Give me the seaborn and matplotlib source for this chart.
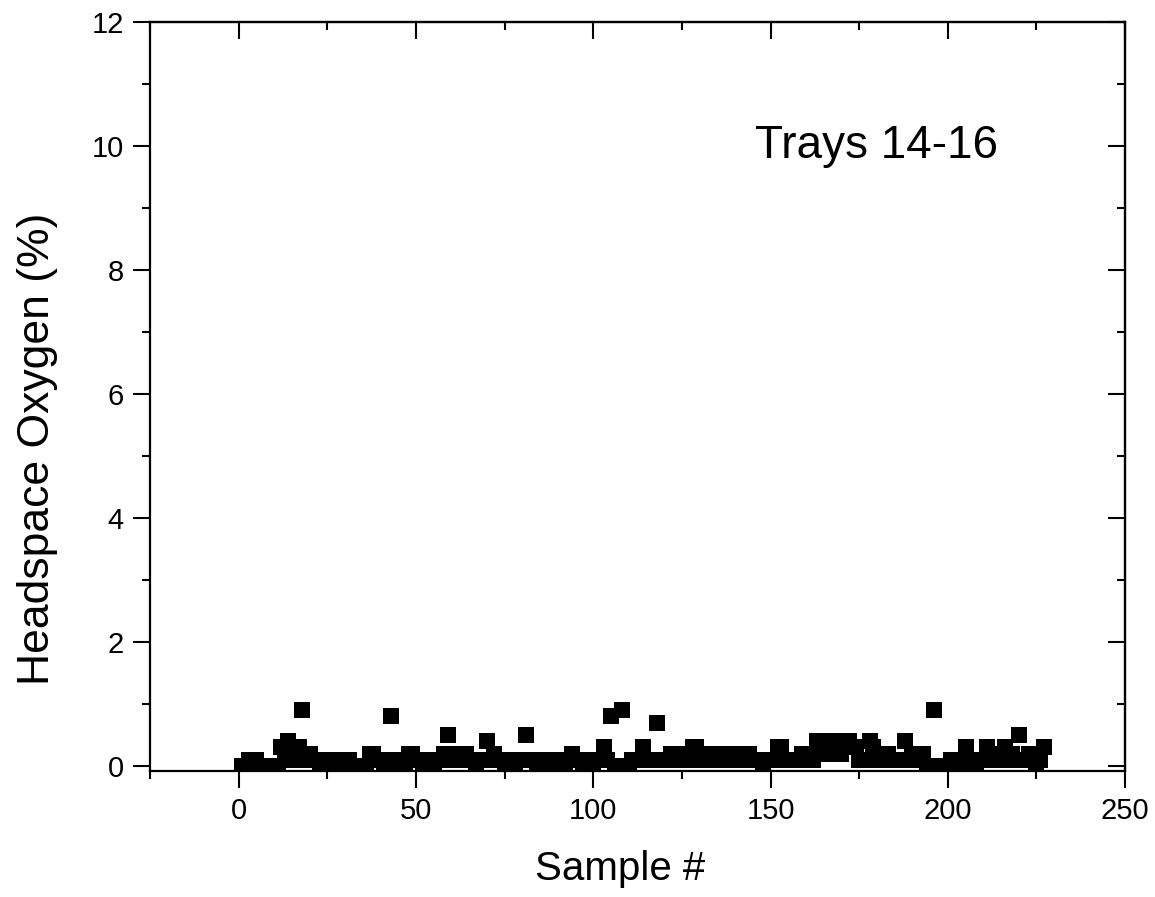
import numpy as np
import pandas as pd
import matplotlib
matplotlib.use("Agg")
import matplotlib.pyplot as plt
from matplotlib.ticker import MultipleLocator
import seaborn as sns

# -------------------------------------------------------
# Dane (Trays 14-16)
# -------------------------------------------------------
sample_no = list(range(1, 228))
oxygen_pct = [
    0.0, 0.0, 0.1, 0.1, 0.1, 0.0, 0.0, 0.0, 0.0, 0.0,   # 1-10
    0.0, 0.3, 0.2, 0.4, 0.1, 0.2, 0.3, 0.9, 0.1, 0.2,   # 11-20
    0.1, 0.1, 0.0, 0.1, 0.1, 0.0, 0.1, 0.1, 0.0, 0.1,   # 21-30
    0.1, 0.0, 0.0, 0.0, 0.0, 0.0, 0.2, 0.2, 0.1, 0.1,   # 31-40
    0.0, 0.1, 0.8, 0.1, 0.0, 0.0, 0.0, 0.2, 0.2, 0.1,   # 41-50
    0.1, 0.0, 0.1, 0.1, 0.0, 0.1, 0.1, 0.2, 0.5, 0.1,   # 51-60
    0.2, 0.1, 0.1, 0.2, 0.1, 0.1, 0.0, 0.1, 0.1, 0.4,   # 61-70
    0.1, 0.2, 0.1, 0.1, 0.0, 0.1, 0.1, 0.0, 0.1, 0.1,   # 71-80
    0.5, 0.1, 0.1, 0.0, 0.1, 0.1, 0.1, 0.0, 0.1, 0.1,   # 81-90
    0.1, 0.0, 0.1, 0.2, 0.1, 0.1, 0.0, 0.1, 0.1, 0.0,   # 91-100
    0.1, 0.1, 0.3, 0.1, 0.8, 0.0, 0.0, 0.9, 0.0, 0.0,   # 101-110
    0.1, 0.1, 0.1, 0.3, 0.1, 0.1, 0.1, 0.7, 0.1, 0.1,   # 111-120
    0.1, 0.2, 0.2, 0.2, 0.1, 0.2, 0.1, 0.3, 0.3, 0.1,   # 121-130
    0.2, 0.1, 0.2, 0.1, 0.2, 0.1, 0.2, 0.1, 0.2, 0.1,   # 131-140
    0.2, 0.1, 0.2, 0.2, 0.1, 0.1, 0.1, 0.0, 0.1, 0.1,   # 141-150
    0.1, 0.3, 0.3, 0.1, 0.1, 0.1, 0.1, 0.1, 0.2, 0.1,   # 151-160
    0.2, 0.1, 0.4, 0.3, 0.4, 0.2, 0.4, 0.3, 0.4, 0.2,   # 161-170
    0.3, 0.4, 0.3, 0.3, 0.1, 0.1, 0.1, 0.4, 0.3, 0.1,   # 171-180
    0.2, 0.1, 0.2, 0.1, 0.1, 0.1, 0.1, 0.4, 0.1, 0.2,   # 181-190
    0.1, 0.2, 0.2, 0.0, 0.0, 0.9, 0.0, 0.0, 0.0, 0.0,   # 191-200
    0.1, 0.1, 0.1, 0.0, 0.3, 0.1, 0.1, 0.0, 0.1, 0.1,   # 201-210
    0.3, 0.1, 0.2, 0.1, 0.1, 0.3, 0.1, 0.2, 0.1, 0.5,   # 211-220
    0.1, 0.1, 0.2, 0.1, 0.0, 0.1, 0.3,                  # 221-227
]
tray_label = "Trays 14-16"

df = pd.DataFrame({"Sample #": sample_no, "Headspace Oxygen (%)": oxygen_pct})

# -------------------------------------------------------
# Wykres
# -------------------------------------------------------
sns.set_style("white")
plt.rcParams["font.family"] = ["Liberation Sans", "DejaVu Sans"]
plt.rcParams["text.color"] = "black"
plt.rcParams["axes.labelcolor"] = "black"

fig = plt.figure(figsize=(11.55, 8.97), dpi=100)
ax = fig.add_axes([0.1299, 0.1405, 0.8442, 0.8350])

sns.scatterplot(data=df, x="Sample #", y="Headspace Oxygen (%)", ax=ax,
                marker="s", color="black", s=145, linewidth=0)

ax.set_xlim(-25, 250)
ax.set_ylim(-0.08, 12)
ax.xaxis.set_major_locator(MultipleLocator(50))
ax.xaxis.set_minor_locator(MultipleLocator(25))
ax.yaxis.set_major_locator(MultipleLocator(2))
ax.yaxis.set_minor_locator(MultipleLocator(1))

for s in ax.spines.values():
    s.set_linewidth(1.6)
    s.set_color("black")

ax.tick_params(which="both", bottom=True, left=True, top=False, right=False)
ax.tick_params(which="major", direction="out", length=12, width=1.5,
               labelsize=21, pad=7, colors="black")
ax.tick_params(which="minor", direction="out", length=6, width=1.5, colors="black")

# gorna i prawa os - ticki do srodka
top = ax.secondary_xaxis("top")
top.xaxis.set_major_locator(MultipleLocator(50))
top.xaxis.set_minor_locator(MultipleLocator(25))
top.tick_params(which="both", top=True, labeltop=False, direction="in", width=1.5, colors="black")
top.tick_params(which="major", length=12)
top.tick_params(which="minor", length=6)
top.spines["top"].set_linewidth(1.6)

right = ax.secondary_yaxis("right")
right.yaxis.set_major_locator(MultipleLocator(2))
right.yaxis.set_minor_locator(MultipleLocator(1))
right.tick_params(which="both", right=True, labelright=False, direction="in", width=1.5, colors="black")
right.tick_params(which="major", length=12)
right.tick_params(which="minor", length=6)
right.spines["right"].set_linewidth(1.6)

ax.set_xlabel("Sample #", fontsize=29)
ax.set_ylabel("Headspace Oxygen (%)", fontsize=32)
ax.xaxis.set_label_coords(0.482, -0.105)
ax.yaxis.set_label_coords(-0.094, 0.43)

ax.text(180, 10, tray_label, fontsize=33, ha="center", va="center")

fig.savefig("out.png", dpi=100)
